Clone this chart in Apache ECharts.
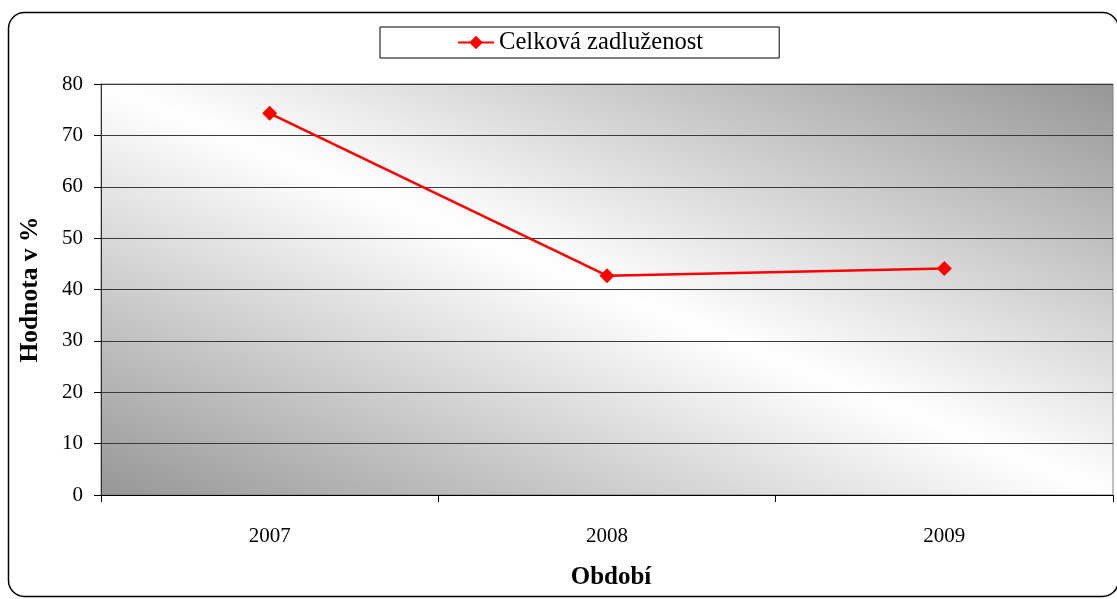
<!DOCTYPE html>
<html>
<head>
<meta charset="utf-8">
<script src="https://cdn.jsdelivr.net/npm/echarts@6/dist/echarts.min.js"></script>
<style>
  html, body { margin: 0; padding: 0; background: #fff; }
  #chart { width: 1117px; height: 599px; }
</style>
</head>
<body>
<div id="chart"></div>
<script>
// Total indebtedness by year
const years = ['2007', '2008', '2009'];
const debtRatio = [74.3, 42.7, 44.1];
const seriesName = 'Celková zadluženost';
const yAxisTitle = 'Hodnota v %';
const xAxisTitle = 'Období';

const serif = '"Liberation Serif", "Times New Roman", serif';

const chart = echarts.init(document.getElementById('chart'), null, { renderer: 'canvas' });

// Diagonal plot-area fill: grey corners, light band from top-left to bottom-right
const plotFill = new echarts.graphic.LinearGradient(0.358, 1.358, 0.642, -0.358, [
  { offset: 0, color: '#969696' },
  { offset: 0.5, color: '#ffffff' },
  { offset: 1, color: '#969696' }
]);

chart.setOption({
  animation: false,
  backgroundColor: '#ffffff',
  graphic: [{
    type: 'rect',
    silent: true,
    z: -10,
    shape: { x: 8.5, y: 12.5, width: 1110, height: 584, r: 16 },
    style: { fill: 'none', stroke: '#000', lineWidth: 1.5 }
  }],
  legend: {
    data: [seriesName],
    left: 380,
    top: 27,
    padding: [3, 76, 3, 77],
    itemWidth: 36,
    itemHeight: 17,
    itemGap: 6,
    borderColor: '#000',
    borderWidth: 1,
    backgroundColor: '#fff',
    textStyle: { fontFamily: serif, fontSize: 24.6, color: '#000', lineHeight: 25 }
  },
  grid: {
    left: 101,
    top: 84,
    right: 4,
    bottom: 104,
    show: true,
    backgroundColor: plotFill,
    borderColor: '#808080',
    borderWidth: 1
  },
  xAxis: {
    type: 'category',
    data: years,
    boundaryGap: true,
    name: xAxisTitle,
    nameLocation: 'middle',
    nameGap: 70,
    nameTextStyle: { fontFamily: serif, fontSize: 25, fontWeight: 'bold', color: '#000', padding: [0, 0, 0, 8] },
    axisLine: { lineStyle: { color: '#000', width: 1 } },
    axisTick: { show: true, length: 7, alignWithLabel: false, lineStyle: { color: '#000' } },
    axisLabel: { fontFamily: serif, fontSize: 21, color: '#000', margin: 31 },
    splitLine: { show: false }
  },
  yAxis: {
    type: 'value',
    min: 0,
    max: 80,
    interval: 10,
    name: yAxisTitle,
    nameLocation: 'middle',
    nameGap: 58,
    nameRotate: 90,
    nameTextStyle: { fontFamily: serif, fontSize: 25.5, fontWeight: 'bold', color: '#000' },
    axisLine: { show: true, lineStyle: { color: '#333', width: 1 } },
    axisTick: { show: true, length: 7, lineStyle: { color: '#000' } },
    axisLabel: { fontFamily: serif, fontSize: 21, color: '#000', margin: 18 },
    splitLine: { show: true, lineStyle: { color: '#3a3a3a', width: 1 } }
  },
  series: [{
    name: seriesName,
    type: 'line',
    data: debtRatio,
    symbol: 'diamond',
    symbolSize: 15,
    showAllSymbol: true,
    lineStyle: { color: '#ff0000', width: 2.5 },
    itemStyle: { color: '#ff0000' }
  }]
});
</script>
</body>
</html>
